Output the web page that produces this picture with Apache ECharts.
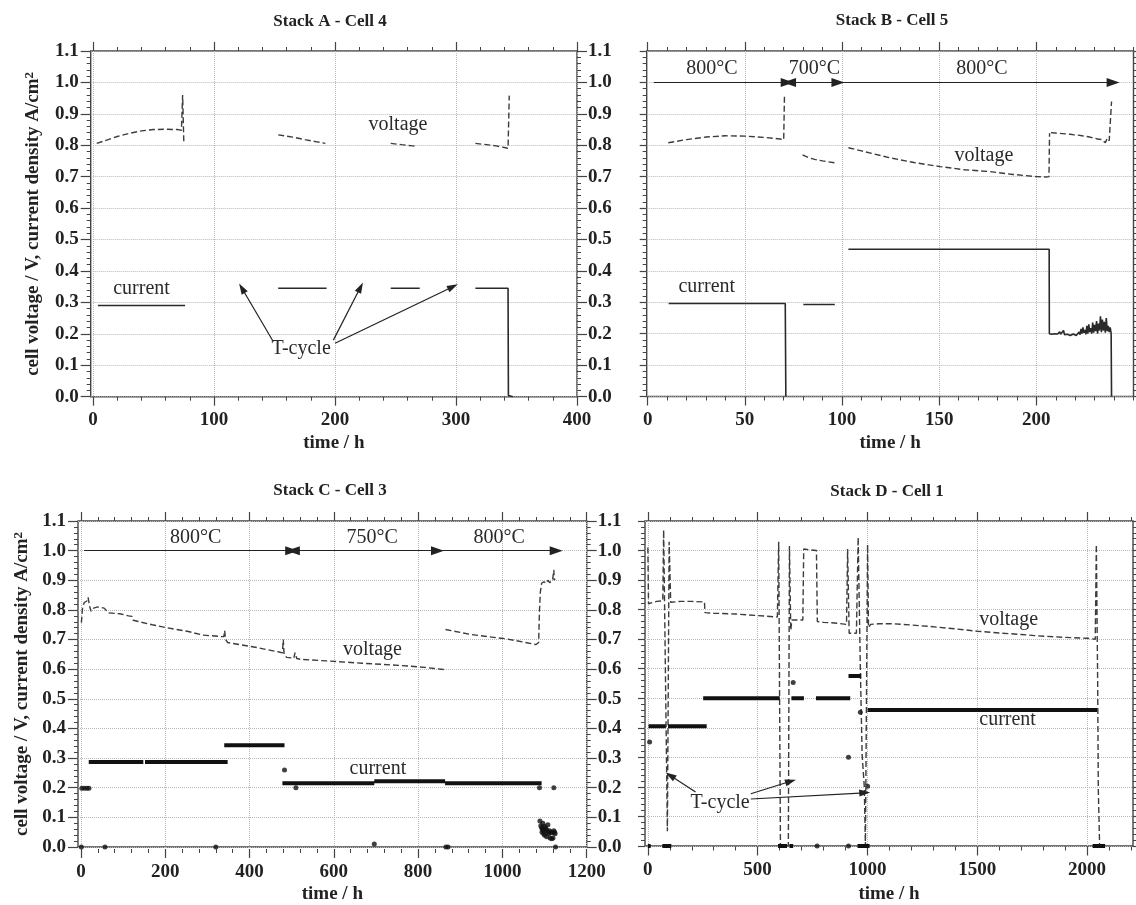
<!DOCTYPE html>
<html>
<head>
<meta charset="utf-8">
<title>Stack cells</title>
<script src="https://cdn.jsdelivr.net/npm/echarts@6.0.0/dist/echarts.min.js"></script>
<style>
html,body{margin:0;padding:0;background:#ffffff;}
#chart{width:1136px;height:905px;}
</style>
</head>
<body>
<div id="chart"></div>
<script>
// ===================== DATA =====================
const panelTitles = ['Stack A - Cell 4', 'Stack B - Cell 5', 'Stack C - Cell 3', 'Stack D - Cell 1'];
const yTicks = [0.0, 0.1, 0.2, 0.3, 0.4, 0.5, 0.6, 0.7, 0.8, 0.9, 1.0, 1.1];
const aXTicks = [0, 100, 200, 300, 400];
const bXTicks = [0, 50, 100, 150, 200];
const cXTicks = [0, 200, 400, 600, 800, 1000, 1200];
const dXTicks = [0, 500, 1000, 1500, 2000];
const xAxisName = 'time / h';
const yAxisName = 'cell voltage / V, current density A/cm';
const yAxisSup = '2';

// ---- Stack A ----
const aVoltageSegs = [
  [[3,0.806],[10,0.815],[20,0.828],[30,0.838],[40,0.846],[50,0.85],[60,0.851],[70,0.85],[73,0.848],[74,0.96],[75,0.806]],
  [[153,0.833],[165,0.826],[175,0.818],[185,0.811],[192,0.806]],
  [[246,0.806],[255,0.802],[262,0.799],[268,0.796]],
  [[316,0.806],[325,0.802],[333,0.798],[341,0.792],[343,0.79],[344,0.958]]
];
const aCurrentSegs = [
  [[4,0.29],[76,0.29]],
  [[153,0.345],[193,0.345]],
  [[246,0.345],[270,0.345]],
  [[316,0.345],[343,0.345],[343.3,0.004],[347,0]]
];
const aNotes = [['voltage',252,0.864],['current',40,0.342],['T-cycle',172,0.151]];
const aArrows = [[149,0.175,123,0.345,'end'],[198.6,0.18,221,0.348,'end'],[200,0.17,297.4,0.35,'end']];

// ---- Stack B ----
const bVoltageSegs = [
  [[10.6,0.808],[20,0.818],[30,0.826],[40,0.83],[50,0.829],[60,0.825],[68,0.82],[70,0.818],[70.4,0.96]],
  [[79.7,0.769],[83,0.76],[86,0.755],[90,0.75],[96.3,0.744]],
  [[103.3,0.792],[110,0.782],[124.7,0.76],[137,0.745],[150.4,0.732],[163,0.722],[176,0.716],[188,0.707],[200,0.7],[205,0.699],[206.5,0.7],[206.8,0.838]]
];
const bVoltageNoise = [[207.5,0.84],[208.5,0.842],[209.5,0.839],[210.5,0.841],[211.5,0.838],[212.5,0.84],[213.5,0.837],[214.5,0.839],[215.5,0.836],[216.5,0.838],[217.5,0.835],[218.5,0.837],[219.5,0.833],[220.5,0.836],[221.5,0.832],[222.5,0.834],[223.5,0.83],[224.5,0.833],[225.5,0.828],[226.5,0.831],[227.5,0.826],[228.5,0.829],[229.5,0.823],[230.5,0.827],[231.5,0.82],[232.5,0.825],[233.5,0.818],[234.5,0.823],[235.5,0.808],[236.5,0.822],[237.5,0.814],[238.3,0.82],[238.7,0.939]];
const bCurrentSegs = [
  [[10.8,0.296],[70.8,0.296],[71.1,0]],
  [[80.1,0.293],[96.3,0.293]],
  [[103.3,0.469],[206.6,0.469]]
];
const bCurrentNoise = [[206.7,0.2],[207,0.195],[207.5,0.205],[208,0.198],[208.5,0.203],[209,0.196],[209.5,0.2],[210,0.194],[210.5,0.204],[211,0.199],[211.5,0.196],[212,0.206],[212.5,0.198],[213,0.2],[213.5,0.195],[214,0.21],[214.5,0.197],[215,0.2],[215.5,0.194],[216,0.198],[216.5,0.196],[217,0.2],[217.5,0.194],[218,0.197],[218.5,0.195],[219,0.199],[219.5,0.194],[220,0.196],[220.5,0.194],[221,0.198],[221.5,0.195],[222,0.205],[222.5,0.197],[223,0.215],[223.5,0.2],[224,0.22],[224.5,0.203],[225,0.212],[225.5,0.198],[226,0.225],[226.5,0.2],[227,0.23],[227.5,0.205],[228,0.218],[228.5,0.2],[229,0.235],[229.5,0.203],[230,0.228],[230.5,0.208],[231,0.24],[231.5,0.2],[232,0.232],[232.5,0.21],[233,0.255],[233.5,0.205],[234,0.245],[234.5,0.21],[235,0.238],[235.5,0.203],[236,0.25],[236.5,0.208],[237,0.225],[237.5,0.205],[238,0.22],[238.5,0.2],[238.7,0]];
const bNotes = [['800°C',33,1.045],['700°C',85.8,1.045],['800°C',172,1.045],['voltage',173,0.766],['current',30.4,0.35]];
const bArrows = [[3.2,1.0,71.8,1.0,'end'],[73,1.0,97.9,1.0,'both'],[100.1,1.0,239.5,1.0,'end']];

// ---- Stack C ----
const cVoltageSegs = [
  [[1,0.757],[4,0.81],[8,0.825],[14,0.83],[17,0.842],[20,0.815],[24,0.795],[30,0.806],[40,0.81],[55,0.806],[66,0.79],[92,0.787],[113,0.78],[121,0.778],[124,0.765],[169,0.75],[203,0.74],[255,0.727],[289,0.715],[334,0.71],[339,0.71],[341,0.73],[343,0.7],[348,0.69],[410,0.675],[470,0.658],[478,0.655],[480,0.7],[482,0.65],[488,0.64],[505,0.637],[508,0.656],[512,0.636],[522,0.633],[582,0.628],[668,0.62],[754,0.613],[816,0.606],[861,0.599]],
  [[865,0.734],[925,0.717],[1011,0.702],[1080,0.683],[1086,0.69],[1088,0.8],[1090,0.86],[1093,0.89],[1098,0.895],[1104,0.89],[1108,0.9],[1112,0.892],[1116,0.898],[1119,0.9],[1122,0.935],[1123,0.9],[1125,0.905]]
];
const cCurrentBars = [[18.5,148,0.287],[152,348,0.287],[340,483,0.343],[478,696,0.215],[696,864,0.222],[864,1093,0.215]];
const cCurrentDots = [[2,0.198],[8,0.198],[14,0.198],[19,0.198],[483,0.26],[510,0.2],[1088,0.2],[1122,0.2],[1,0],[57,0],[320,0],[696,0.01],[866,0],[871,0],[1126,0],
  [1089,0.088],[1091,0.072],[1093,0.065],[1095,0.06],[1097,0.055],[1094,0.05],[1098,0.045],[1100,0.07],[1102,0.065],[1104,0.06],[1100,0.04],[1106,0.055],[1108,0.05],[1110,0.045],[1105,0.035],[1112,0.055],[1115,0.05],[1118,0.048],[1120,0.03],[1122,0.055],[1124,0.05],[1113,0.03],[1117,0.028],[1125,0.045],[1108,0.075],[1096,0.08]];
const cNotes = [['800°C',272,1.042],['750°C',691,1.042],['800°C',992.6,1.042],['voltage',691.7,0.664],['current',704.5,0.263]];
const cArrows = [[7.3,1.0,500,1.0,'end'],[504,1.0,846,1.0,'both'],[850,1.0,1127.6,1.0,'end']];

// ---- Stack D ----
const dVoltageSegs = [
  [[0,1.01],[3,0.82],[10,0.825],[40,0.828],[68,0.83],[72,1.07],[89,0.05],[97,1.03],[104,0.825],[150,0.828],[200,0.828],[258,0.826],[260,0.79],[300,0.788],[400,0.785],[500,0.78],[590,0.775],[596,1.03],[604,0.0],[640,0.0],[645,1.015],[651,0.73],[656,0.765],[706,0.765],[710,1.005],[768,1.0],[772,0.76],[800,0.757],[850,0.755],[905,0.75],[910,1.005],[917,0.72],[950,0.72],[958,1.045],[968,0.6],[976,0.31],[986,0.2],[991,0.0],[997,0.0],[1001,1.02],[1005,0.74],[1015,0.75],[1050,0.752],[1120,0.752],[1200,0.748],[1285,0.743],[1400,0.735],[1500,0.727],[1600,0.721],[1700,0.716],[1762,0.712],[1900,0.706],[2000,0.703],[2038,0.7],[2043,1.02],[2049,0.56],[2052,0.19],[2058,0.0]]
];
const dCurrentBars = [[3,82,0.405],[92,268,0.405],[252,601,0.5],[654,711,0.5],[766,922,0.5],[914,972,0.575],[1001,2047,0.46],
  [0,13,0],[66,107,0],[593,634,0],[645,662,0],[955,1010,0],[2026,2083,0]];
const dCurrentDots = [[8,0.352],[662,0.553],[914,0.3],[968,0.453],[1001,0.202],[771,0],[914,0]];
const dNotes = [['voltage',1643.6,0.765],['current',1638.7,0.427],['T-cycle',329,0.148]];
const dArrows = [[217.4,0.183,102,0.239,'end'],[469,0.177,650.5,0.219,'end'],[469,0.159,988,0.18,'end']];

// ===================== LAYOUT / STYLE =====================
const FONT = '"Liberation Serif", "Times New Roman", serif';
const INK = '#222';
const FRAME = '#444';
const GRIDC = '#b8b8b8';

const panels = [
  {title: panelTitles[0], tx: 330, ty: 22, frame: {left: 90.7, top: 51, width: 486.3, height: 345.7}, xRange: [-2, 400],
   xTicks: aXTicks, minorStep: 20, extEnd: null, leftLabels: true, rightLabels: true, yName: true, yNameGap: 47, xNameGap: 37,
   volt: aVoltageSegs, curThin: aCurrentSegs, notes: aNotes, arrows: aArrows},
  {title: panelTitles[1], tx: 892, ty: 21, frame: {left: 646.7, top: 51, width: 486.8, height: 345.5}, xRange: [-0.5, 250],
   xTicks: bXTicks, minorStep: 10, extEnd: 250, leftLabels: false, rightLabels: false, yName: false, xNameGap: 37,
   volt: bVoltageSegs.concat([bVoltageNoise]), curThin: bCurrentSegs.slice(0, 2).concat([bCurrentSegs[2].concat(bCurrentNoise)]), notes: bNotes, arrows: bArrows},
  {title: panelTitles[2], tx: 330, ty: 491, frame: {left: 78, top: 521, width: 508.7, height: 328}, xRange: [-7, 1200],
   xTicks: cXTicks, minorStep: 40, extEnd: null, leftLabels: true, rightLabels: true, yName: true, yNameGap: 45, xNameGap: 38,
   volt: cVoltageSegs, curBars: cCurrentBars, curDots: cCurrentDots, notes: cNotes, arrows: cArrows},
  {title: panelTitles[3], tx: 887, ty: 492, frame: {left: 645, top: 521, width: 488, height: 325.5}, xRange: [-13, 2210],
   xTicks: dXTicks, minorStep: 100, extEnd: 2200, leftLabels: false, rightLabels: false, yName: false, xNameGap: 39,
   volt: dVoltageSegs, curBars: dCurrentBars, curDots: dCurrentDots, notes: dNotes, arrows: dArrows}
];

function xToPx(p, t) { return p.frame.left + (t - p.xRange[0]) / (p.xRange[1] - p.xRange[0]) * p.frame.width; }
function joinSegs(segs) {
  const out = [];
  segs.forEach((s, i) => { if (i) out.push([s[0][0], '-']); s.forEach(pt => out.push(pt)); });
  return out;
}
function barsToSegs(bars) { return bars.map(b => [[b[0], b[2]], [b[1], b[2]]]); }

const labelStyle = {fontFamily: FONT, fontWeight: 'bold', fontSize: 19, color: INK};
const grids = [], xAxes = [], yAxes = [], series = [], graphics = [];

panels.forEach((p, pi) => {
  const f = p.frame;
  // --- data grid with frame
  const gi = grids.length;
  grids.push({left: f.left, top: f.top, width: f.width, height: f.height, show: true,
    borderColor: FRAME, borderWidth: 1.4, backgroundColor: 'transparent'});
  const xi = xAxes.length;
  xAxes.push({gridIndex: gi, type: 'value', min: p.xRange[0], max: p.xRange[1], position: 'bottom',
    name: xAxisName, nameLocation: 'middle', nameGap: p.xNameGap, nameTextStyle: labelStyle,
    axisLine: {show: false, onZero: false}, axisTick: {show: false}, axisLabel: {show: false}, splitLine: {show: false}});
  const yi = yAxes.length;
  const yStep = +(yTicks[1] - yTicks[0]).toFixed(3);
  yAxes.push({gridIndex: gi, type: 'value', min: yTicks[0], max: yTicks[yTicks.length - 1], interval: yStep, position: 'left',
    name: p.yName ? '{n|' + yAxisName + '}{s|' + yAxisSup + '}' : '', nameLocation: 'middle', nameRotate: 90, nameGap: p.yNameGap || 40,
    nameTextStyle: {rich: {n: {fontFamily: FONT, fontWeight: 'bold', fontSize: 19, color: INK},
                           s: {fontFamily: FONT, fontWeight: 'bold', fontSize: 13, color: INK, verticalAlign: 'top', padding: [0,0,8,0]}}},
    axisLine: {show: false, onZero: false},
    axisTick: {show: true, inside: false, length: p.leftLabels ? 10 : 7, lineStyle: {color: FRAME, width: 1.2}},
    minorTick: {show: true, splitNumber: 5, length: 4, lineStyle: {color: FRAME, width: 1}},
    axisLabel: Object.assign({show: p.leftLabels, margin: 12, formatter: v => v.toFixed(1)}, labelStyle),
    splitLine: {show: true, lineStyle: {color: GRIDC, type: 'dotted', width: 1}}});
  yAxes.push({gridIndex: gi, type: 'value', min: yTicks[0], max: yTicks[yTicks.length - 1], interval: yStep, position: 'right',
    axisLine: {show: false, onZero: false},
    axisTick: {show: true, inside: false, length: 10, lineStyle: {color: FRAME, width: 1.2}},
    minorTick: {show: true, splitNumber: 5, length: 4, lineStyle: {color: FRAME, width: 1}},
    axisLabel: Object.assign({show: p.rightLabels, margin: 11, formatter: v => v.toFixed(1)}, labelStyle),
    splitLine: {show: false}});

  // --- major x tick grid (from 0 to last labelled tick)
  const t0 = p.xTicks[0], t1 = p.xTicks[p.xTicks.length - 1], step = p.xTicks[1] - p.xTicks[0];
  const gq = grids.length;
  grids.push({left: xToPx(p, t0), top: f.top, width: xToPx(p, t1) - xToPx(p, t0), height: f.height});
  ['bottom', 'top'].forEach(pos => {
    xAxes.push({gridIndex: gq, type: 'value', min: t0, max: t1, interval: step, position: pos,
      axisLine: {show: false, onZero: false},
      axisTick: {show: true, inside: false, length: 9, lineStyle: {color: FRAME, width: 1.2}},
      minorTick: {show: true, splitNumber: Math.round(step / p.minorStep), length: 4, lineStyle: {color: FRAME, width: 1}},
      axisLabel: Object.assign({show: pos === 'bottom', margin: 14, formatter: v => String(v)}, labelStyle),
      splitLine: {show: pos === 'bottom', lineStyle: {color: GRIDC, type: 'dotted', width: 1}}});
  });
  yAxes.push({gridIndex: gq, type: 'value', min: 0, max: 1.1, show: false});

  // --- extension of minor ticks after the last labelled tick
  if (p.extEnd) {
    const ge = grids.length;
    grids.push({left: xToPx(p, t1), top: f.top, width: xToPx(p, p.extEnd) - xToPx(p, t1), height: f.height});
    ['bottom', 'top'].forEach(pos => {
      xAxes.push({gridIndex: ge, type: 'value', min: t1, max: p.extEnd, interval: p.minorStep, position: pos,
        axisLine: {show: false, onZero: false},
        axisTick: {show: true, inside: false, length: 4, lineStyle: {color: FRAME, width: 1}},
        axisLabel: {show: false}, splitLine: {show: false}});
    });
    yAxes.push({gridIndex: ge, type: 'value', min: 0, max: 1.1, show: false});
  }

  // --- series
  const base = {xAxisIndex: xi, yAxisIndex: yi, silent: true, animation: false};
  series.push(Object.assign({type: 'line', name: 'voltage', data: joinSegs(p.volt), showSymbol: false, symbol: 'none',
    lineStyle: {color: '#3c3c3c', width: 1.4, type: [6, 3]}, z: 3,
    markPoint: {symbol: 'rect', symbolSize: 1, silent: true, animation: false,
      itemStyle: {color: 'rgba(0,0,0,0)'},
      label: {show: true, position: 'inside', formatter: '{b}', fontFamily: FONT, fontSize: 20, color: '#2a2a2a'},
      data: p.notes.map(n => ({name: n[0], coord: [n[1], n[2]]}))},
    markLine: {silent: true, animation: false, symbol: ['none', 'none'], label: {show: false},
      lineStyle: {color: '#222', width: 1.2, type: 'solid'},
      emphasis: {disabled: true},
      data: p.arrows.map(a => {
        const big = Math.abs(a[1] - a[3]) < 1e-6;
        const sz = big ? [9, 13] : [7, 11];
        return [{coord: [a[0], a[1]], symbol: a[4] === 'both' ? 'triangle' : 'none', symbolSize: sz},
                {coord: [a[2], a[3]], symbol: 'triangle', symbolSize: sz}];
      })}
  }, base));
  if (p.curThin) {
    series.push(Object.assign({type: 'line', name: 'current', data: joinSegs(p.curThin), showSymbol: false, symbol: 'none',
      lineStyle: {color: '#2a2a2a', width: 1.6}, z: 4}, base));
  }
  if (p.curBars) {
    series.push(Object.assign({type: 'line', name: 'current', data: joinSegs(barsToSegs(p.curBars)), showSymbol: false, symbol: 'none',
      lineStyle: {color: '#111', width: 4}, z: 4, clip: false}, base));
    series.push(Object.assign({type: 'scatter', name: 'current dots', data: p.curDots, symbol: 'circle', symbolSize: 5,
      itemStyle: {color: '#111'}, z: 4, clip: false}, base));
  }

  graphics.push({type: 'text', x: p.tx, y: p.ty, silent: true,
    style: {text: p.title, fill: INK, font: 'bold 17px ' + FONT, textAlign: 'center', textVerticalAlign: 'middle'}});
});

const chart = echarts.init(document.getElementById('chart'), null, {renderer: 'canvas'});
chart.setOption({
  animation: false,
  backgroundColor: '#ffffff',
  grid: grids,
  xAxis: xAxes,
  yAxis: yAxes,
  series: series,
  graphic: graphics
});
</script>
</body>
</html>
